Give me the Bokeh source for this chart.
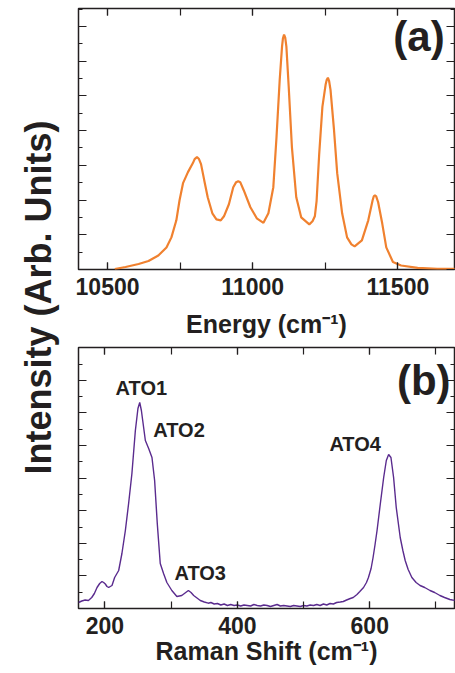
import math
from bokeh.plotting import figure
from bokeh.layouts import row, column
from bokeh.models import Range1d, LinearAxis, SingleIntervalTicker, Label
from bokeh.embed import file_html
from bokeh.resources import INLINE

# ---------------- data ----------------
# Panel (a): emission spectrum, energy in cm^-1, intensity arb. units
energy = [10525, 10562, 10607, 10641, 10675, 10703, 10720, 10737, 10748, 10760,
          10777, 10794, 10800, 10808, 10815, 10822, 10833, 10845, 10861, 10875,
          10890, 10901, 10918, 10933, 10943, 10950, 10957, 10969, 10992, 11014,
          11037, 11054, 11071, 11082, 11093, 11101, 11104, 11108, 11112, 11116,
          11124, 11135, 11150, 11167, 11195, 11206, 11214, 11220, 11229, 11240,
          11251, 11255, 11259, 11263, 11268, 11280, 11291, 11308, 11325, 11340,
          11351, 11376, 11398, 11413, 11417, 11421, 11425, 11432, 11446, 11460,
          11483, 11511, 11568, 11636, 11700]
intensity_a = [0.5, 2.5, 5.5, 8.5, 14, 22, 32, 49, 69, 86,
               97, 106, 110, 112, 110, 105, 89, 72, 56, 50,
               49, 53, 65, 82, 87, 88, 87, 79, 62, 51,
               46.5, 56, 82, 132, 189, 222, 230, 234, 231, 222,
               182, 122, 72, 52, 45, 48, 53, 68, 115, 162,
               184, 189, 191, 188, 179, 139, 96, 56, 32, 25,
               23, 29, 49, 69, 73, 74, 73, 67, 46, 22,
               7.5, 4, 1.7, 0.7, 0.7]

# Panel (b): Raman spectrum
raman_shift = [160, 165, 170, 175, 180, 184, 188, 192, 195.5, 198,
               200.5, 203, 205.6, 208, 210.6, 214.6, 220.7, 225.6, 230.8, 235.7,
               240.7, 245.9, 249.8, 252.5, 255, 257, 261, 266, 271, 275,
               279, 283.5, 288.5, 293.5, 301, 308.6, 316, 322, 326, 330,
               334, 340, 344, 350, 356, 360, 365, 370, 375, 380,
               385, 390, 395, 400, 405, 410, 415, 420, 425, 430,
               435, 440, 445, 450, 455, 460, 465, 470, 475, 480,
               485, 490, 495, 500, 505, 510, 515, 520, 525, 530,
               535, 540, 545, 550, 555.5, 560, 565, 570.6, 575, 580.7,
               585, 590.6, 595, 598, 602, 605, 608, 611, 616, 621,
               625, 628.5, 632, 636, 640, 643, 646, 650, 653.5, 658,
               663.6, 670, 676, 683, 691, 698, 706, 713, 721, 725, 730]
intensity_b = [6, 7.5, 8.5, 8, 11, 15, 21, 25, 27, 26,
               24.5, 22, 21, 22, 23, 31, 38, 55, 78, 105,
               135, 178, 200, 206, 198, 188, 168, 160, 151, 128,
               85, 45, 35, 26, 18, 12, 13, 16, 18, 16,
               13, 10, 8, 6.5, 5.3, 6, 4.5, 5, 3.5, 4.5,
               3, 4, 3, 3.5, 2.5, 3.5, 3, 2.5, 4, 3,
               2.5, 3.5, 3, 2, 3, 4, 2.5, 3, 2.5, 2,
               3, 2.5, 2, 3, 2.5, 3.5, 3, 4, 3, 4.5,
               3.5, 5, 4.5, 6, 6.5, 7, 8.5, 10, 11, 14,
               17, 21, 26, 31, 40, 51, 64, 78, 105, 131,
               148, 154, 151, 131, 101, 86, 71, 58, 48, 39,
               31, 26, 23, 21, 18, 16, 13, 11, 9, 8.5, 8]

peak_names = ["ATO1", "ATO2", "ATO3", "ATO4"]
peak_label_x = [216, 273, 305, 539]
peak_label_y = [221, 179, 36, 165]

# ---------------- styling ----------------
TEXT = "#231f20"
FONT = "Liberation Sans"
ORANGE = "#f0812f"
PURPLE = "#5a2b8e"

L = 62
W = 455 - L
HA = 346
HB = 327


def frame_axes(p, x_interval, y_interval, title, tick_standoff, label_standoff):
    p.grid.visible = False
    p.outline_line_color = TEXT
    p.outline_line_width = 1.5
    p.background_fill_color = "white"
    p.border_fill_color = "white"
    xt = SingleIntervalTicker(interval=x_interval, num_minor_ticks=2)
    yt = SingleIntervalTicker(interval=y_interval, num_minor_ticks=2)
    p.add_layout(LinearAxis(ticker=xt), "above")
    p.add_layout(LinearAxis(ticker=yt), "right")
    for ax in p.xaxis:
        ax.ticker = xt
        ax.major_tick_in = 7
        ax.major_tick_out = 0
        ax.minor_tick_in = 7
        ax.minor_tick_out = 0
    for ax in p.yaxis:
        ax.ticker = yt
        ax.major_tick_in = 8
        ax.major_tick_out = 0
        ax.minor_tick_in = 4
        ax.minor_tick_out = 0
        ax.major_label_text_color = None
        ax.major_label_text_font_size = "1px"
        ax.major_label_standoff = 0
    for ax in p.axis:
        ax.axis_line_color = None
        ax.major_tick_line_color = TEXT
        ax.minor_tick_line_color = TEXT
        ax.major_tick_line_width = 1.2
        ax.minor_tick_line_width = 1.2
    top = p.above[0]
    top.major_label_text_color = None
    top.major_label_text_font_size = "1px"
    top.major_label_standoff = 0
    bottom = p.below[0]
    bottom.major_label_text_font = FONT
    bottom.major_label_text_font_style = "bold"
    bottom.major_label_text_font_size = "23px"
    bottom.major_label_text_color = TEXT
    bottom.major_label_standoff = tick_standoff
    bottom.axis_label = title
    bottom.axis_label_text_font = FONT
    bottom.axis_label_text_font_style = "bold"
    bottom.axis_label_text_font_size = "25px"
    bottom.axis_label_text_color = TEXT
    bottom.axis_label_standoff = label_standoff


# Panel (a)
pa = figure(width=W, height=HA, x_range=Range1d(10400, 11695), y_range=Range1d(0, 260),
            toolbar_location=None, output_backend="svg",
            min_border_left=10, min_border_right=1, min_border_top=8, min_border_bottom=77)
frame_axes(pa, 500, 34.6, "Energy (cm\u207b\u00b9)", 8, 12)
pa.line(energy, intensity_a, line_color=ORANGE, line_width=2.2)
pa.add_layout(Label(x=11661, y=232, text="(a)", text_align="right", text_baseline="alphabetic",
                    text_font=FONT, text_font_style="bold", text_font_size="42px", text_color=TEXT))

# Panel (b)
pb = figure(width=W, height=HB, x_range=Range1d(160, 728), y_range=Range1d(0, 261),
            toolbar_location=None, output_backend="svg",
            min_border_left=16, min_border_right=1, min_border_top=1, min_border_bottom=65)
frame_axes(pb, 200, 32.6, "Raman Shift (cm\u207b\u00b9)", 8, 0)
pb.line(raman_shift, intensity_b, line_color=PURPLE, line_width=1.4)
pb.add_layout(Label(x=722, y=228, text="(b)", text_align="right", text_baseline="alphabetic",
                    text_font=FONT, text_font_style="bold", text_font_size="42px", text_color=TEXT))
for name, lx, ly in zip(peak_names, peak_label_x, peak_label_y):
    pb.add_layout(Label(x=lx, y=ly, text=name, text_align="left", text_baseline="alphabetic",
                        text_font=FONT, text_font_style="bold", text_font_size="20px",
                        text_color=TEXT))

# Shared y-axis title
py = figure(width=L, height=HA + HB, x_range=Range1d(0, L), y_range=Range1d(0, HA + HB),
            toolbar_location=None, output_backend="svg", x_axis_type=None, y_axis_type=None,
            min_border=0)
py.outline_line_color = None
py.grid.visible = False
py.add_layout(Label(x=38, y=376, text="Intensity (Arb. Units)", angle=math.pi / 2,
                    text_align="center", text_baseline="middle", text_font=FONT,
                    text_font_style="bold", text_font_size="36px", text_color=TEXT))

layout = row(py, column(pa, pb))
open("out.html", "w").write(file_html(layout, INLINE))
